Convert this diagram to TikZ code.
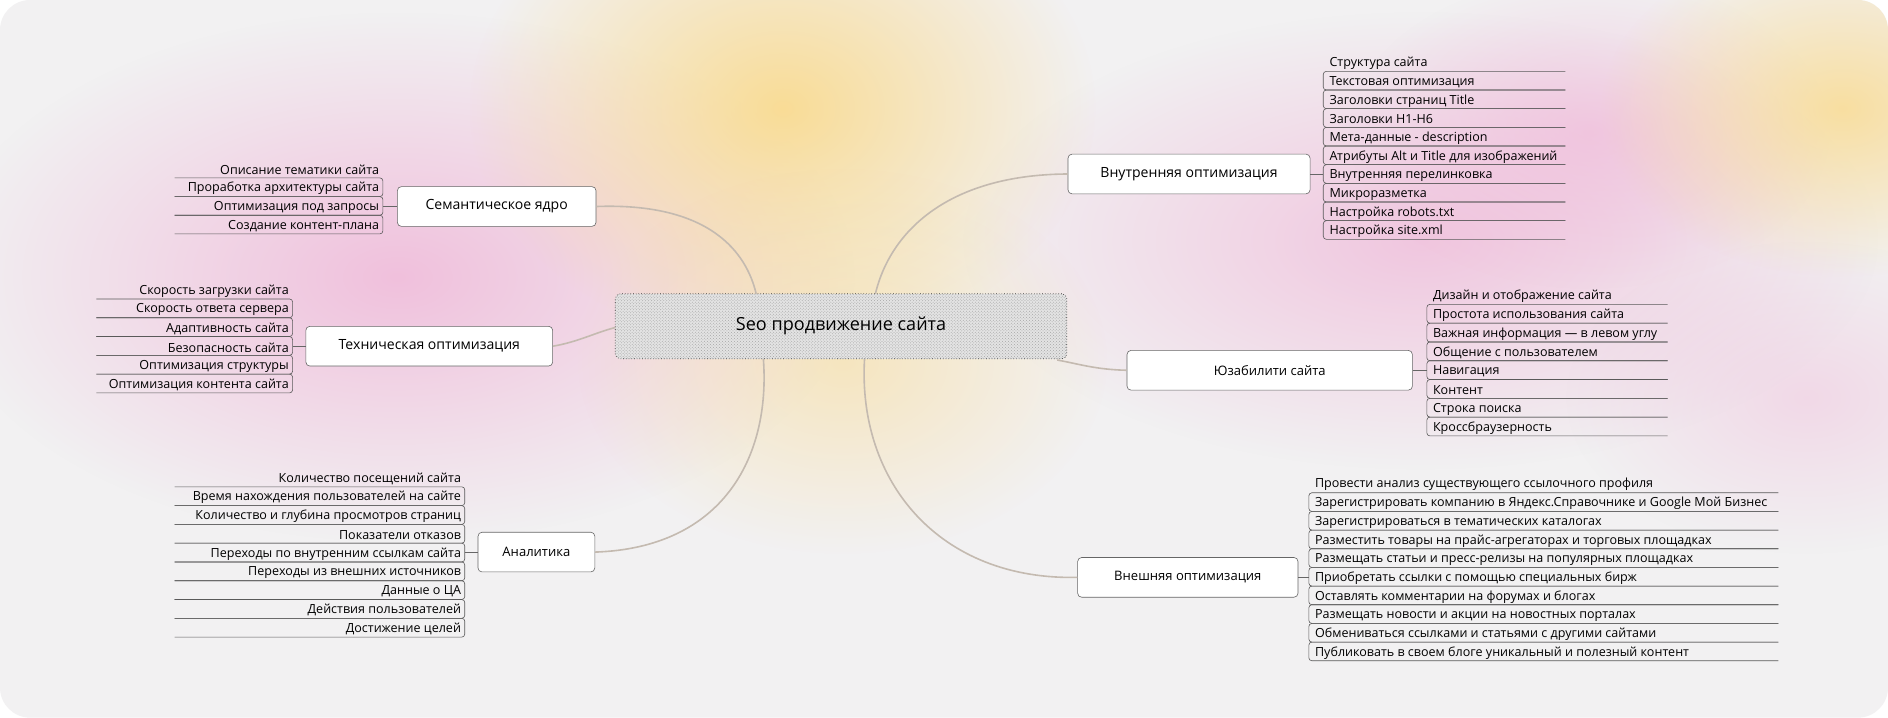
\documentclass[tikz,border=0pt]{standalone}
\usepackage{fontspec}
\setmainfont{Open Sans}
\usetikzlibrary{fadings,patterns}
\tikzfading[name=fuzzy, inner color=transparent!0, outer color=transparent!100]
\definecolor{bgc}{RGB}{242,241,242}
\definecolor{con}{RGB}{196,186,176}
\definecolor{yel}{RGB}{250,218,140}
\definecolor{pnk}{RGB}{240,180,215}
\begin{document}
\begin{tikzpicture}[x=1.2pt,y=-1.2pt,
  blob/.style={path fading=fuzzy},
  branch/.style={draw=black!60,fill=white,rounded corners=4pt,line width=0.6pt,inner sep=0pt,font=\fontsize{14}{16}\selectfont},
  small/.style={font=\fontsize{13}{15}\selectfont},
  item/.style={font=\fontsize{12.5}{14}\selectfont,inner sep=0pt},
  box/.style={draw=black!65,line width=0.6pt,rounded corners=3pt},
  link/.style={draw=con,line width=1.6pt},
  stub/.style={draw=black!60,line width=0.6pt}]
\useasboundingbox (0,0) rectangle (1568,596);
\fill[white] (0,0) rectangle (1568,596);
\begin{scope}
\clip[rounded corners=30pt] (0,0) rectangle (1568,596);
\fill[bgc] (0,0) rectangle (1568,596);
\fill[pnk,blob,opacity=0.8] (330,230) ellipse (380 and 220);
\fill[pnk,blob,opacity=0.7] (1180,200) ellipse (380 and 190);
\fill[pnk,blob,opacity=0.6] (1320,110) ellipse (200 and 130);
\fill[yel,blob,opacity=0.8] (1530,90) ellipse (200 and 140);
\fill[yel,blob,opacity=0.9] (650,90) ellipse (260 and 200);
\fill[yel,blob,opacity=0.5] (700,300) ellipse (220 and 160);
\fill[pnk,blob,opacity=0.4] (1500,330) ellipse (200 and 130);
\end{scope}

% center
\node[draw=black!80,dotted,line width=0.7pt,rounded corners=5pt,fill=gray!22,
  postaction={pattern=crosshatch dots,pattern color=gray!70},
  minimum width=375*1.2pt,minimum height=54*1.2pt,font=\fontsize{18}{20}\selectfont]
  (c) at (698.5,271) {Seo продвижение сайта};

% branches
\node[branch,minimum width=165*1.2pt,minimum height=33*1.2pt] (sem) at (412.5,171.5) {Семантическое ядро};
\node[branch,minimum width=205*1.2pt,minimum height=33*1.2pt] (tech) at (356.5,287.5) {Техническая оптимизация};
\node[branch,small,minimum width=97*1.2pt,minimum height=33*1.2pt] (an) at (445.5,458.5) {Аналитика};
\node[branch,minimum width=201*1.2pt,minimum height=33*1.2pt] (vn) at (987.5,144.5) {Внутренняя оптимизация};
\node[branch,small,minimum width=237*1.2pt,minimum height=33*1.2pt] (uz) at (1054.5,307.5) {Юзабилити сайта};
\node[branch,small,minimum width=183*1.2pt,minimum height=33*1.2pt] (ext) at (986.5,479.5) {Внешняя оптимизация};

% links
\coordinate (c1) at (628,244); \coordinate (c2) at (511,272); \coordinate (c3) at (634,298);
\coordinate (c4) at (727,244); \coordinate (c5) at (878,299); \coordinate (c6) at (718,298);
\draw[link] (sem.east) .. controls (590,168) and (620,210) .. (c1);
\draw[link] (tech.east) .. controls (480,284) and (495,276) .. (c2);
\draw[link] (an.east) .. controls (600,455) and (640,380) .. (c3);
\draw[link] (vn.west) .. controls (790,145) and (740,190) .. (c4);
\draw[link] (uz.west) .. controls (910,307) and (895,302) .. (c5);
\draw[link] (ext.west) .. controls (780,482) and (712,400) .. (c6);

% list macro: #1 name, #2 side (L/R), #3 inner x, #4 outer x, #5 header y, #6 pitch, #7 header, #8 items
\newcommand{\mmlist}[8]{%
  \ifx L#2
    \node[item,anchor=east] (#1h) at (#3-3,#5+1) {#7};
  \else
    \node[item,anchor=west] (#1h) at (#3+5,#5+1) {#7};
  \fi
  \foreach \t [count=\i] in {#8} {
    \pgfmathsetmacro{\yy}{#5+\i*#6}
    \pgfmathsetmacro{\yt}{\yy-#6/2}
    \pgfmathsetmacro{\yb}{\yy+#6/2}
    \draw[box] (#4,\yt) -- (#3,\yt) -- (#3,\yb) -- (#4,\yb);
    \ifx L#2
      \node[item,anchor=east] (#1\i) at (#3-3,\yy+1.2) {\t};
    \else
      \node[item,anchor=west] (#1\i) at (#3+5,\yy+1.2) {\t};
    \fi
  }}

\mmlist{s}{L}{318}{145}{140}{15.5}{Описание тематики сайта}{Проработка архитектуры сайта,Оптимизация под запросы,Создание контент-плана}
\coordinate (sx) at (318,171.5); \draw[stub] (sem.west) -- (sx);

\mmlist{t}{L}{243}{80}{240.5}{15.6}{Скорость загрузки сайта}{Скорость ответа сервера,Адаптивность сайта,Безопасность сайта,Оптимизация структуры,Оптимизация контента сайта}
\coordinate (tx) at (243,287.5); \draw[stub] (tech.west) -- (tx);

\mmlist{a}{L}{386}{145}{396.5}{15.6}{Количество посещений сайта}{Время нахождения пользователей на сайте,Количество и глубина просмотров страниц,Показатели отказов,Переходы по внутренним ссылкам сайта,Переходы из внешних источников,Данные о ЦА,Действия пользователей,Достижение целей}
\coordinate (ax) at (386,458.5); \draw[stub] (an.west) -- (ax);

\mmlist{v}{R}{1099}{1300}{51.5}{15.5}{Структура сайта}{Текстовая оптимизация,Заголовки страниц Title,Заголовки H1-H6,Мета-данные - description,Атрибуты Alt и Title для изображений,Внутренняя перелинковка,Микроразметка,Настройка robots.txt,Настройка site.xml}
\coordinate (vx) at (1099,144.5); \draw[stub] (vn.east) -- (vx);

\mmlist{u}{R}{1185}{1385}{245}{15.6}{Дизайн и отображение сайта}{Простота использования сайта,Важная информация — в левом углу,Общение с пользователем,Навигация,Контент,Строка поиска,Кроссбраузерность}
\coordinate (ux) at (1185,307.5); \draw[stub] (uz.east) -- (ux);

\mmlist{e}{R}{1087}{1477}{401.5}{15.5}{Провести анализ существующего ссылочного профиля}{Зарегистрировать компанию в Яндекс.Справочнике и Google Мой Бизнес,Зарегистрироваться в тематических каталогах,Разместить товары на прайс-агрегаторах и торговых площадках,Размещать статьи и пресс-релизы на популярных площадках,Приобретать ссылки с помощью специальных бирж,Оставлять комментарии на форумах и блогах,Размещать новости и акции на новостных порталах,Обмениваться ссылками и статьями с другими сайтами,Публиковать в своем блоге уникальный и полезный контент}
\coordinate (ex) at (1087,479.5); \draw[stub] (ext.east) -- (ex);
\end{tikzpicture}
\end{document}
